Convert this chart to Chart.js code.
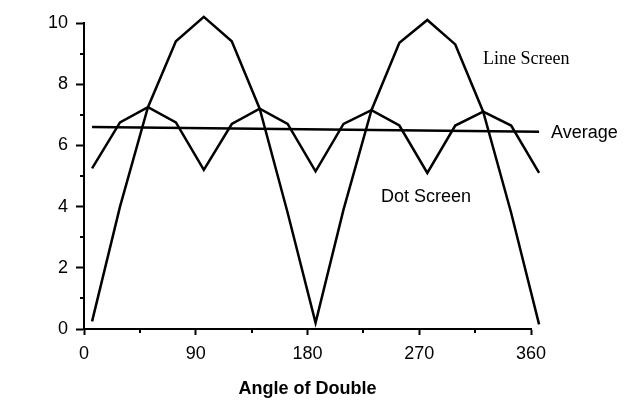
<!DOCTYPE html>
<html>
<head>
<meta charset="utf-8">
<script src="https://cdn.jsdelivr.net/npm/chart.js@4"></script>
<style>
  body { margin: 0; background: #fff; }
  canvas { display: block; }
</style>
</head>
<body>
<canvas id="screenChart" width="628" height="406"></canvas>
<script>
// Angles where the curves were sampled (degrees)
const angles = [6.5, 29, 51.5, 74, 96.5, 119, 141.5, 164, 186.5, 209, 231.5, 254, 276.5, 299, 321.5, 344, 366.5];
const lineScreen = [0.25, 4.0, 7.25, 9.4, 10.2, 9.4, 7.2, 3.8, 0.2, 3.9, 7.15, 9.35, 10.1, 9.3, 7.1, 3.8, 0.15];
const dotScreen = [5.25, 6.75, 7.25, 6.75, 5.2, 6.7, 7.2, 6.7, 5.15, 6.7, 7.15, 6.65, 5.1, 6.65, 7.1, 6.65, 5.1];
const averageX = [6.5, 366.5];
const averageY = [6.6, 6.45];

const xTicks = [0, 90, 180, 270, 360];
const xMinorTicks = [45, 135, 225, 315];
const yMinorTicks = [1, 3, 5, 7, 9];

// Text labels placed next to the curves
const notes = [
    { text: 'Line Screen', x: 483, y: 59, font: '18px "Liberation Serif", "Times New Roman", serif' },
    { text: 'Average', x: 551, y: 133, font: '18px "Liberation Sans", Arial, sans-serif' },
    { text: 'Dot Screen', x: 381, y: 197, font: '18px "Liberation Sans", Arial, sans-serif' }
];

function toPoints(xs, ys) {
    return xs.map((x, i) => ({ x: x, y: ys[i] }));
}

// Draws short minor tick marks and the free text labels
const extrasPlugin = {
    id: 'extras',
    afterDraw(chart) {
        const ctx = chart.ctx;
        const xs = chart.scales.x;
        const ys = chart.scales.y;
        const area = chart.chartArea;
        ctx.save();
        ctx.strokeStyle = '#000';
        ctx.lineWidth = 2;
        ctx.beginPath();
        yMinorTicks.forEach(v => {
            const py = Math.round(ys.getPixelForValue(v));
            ctx.moveTo(area.left - 4, py);
            ctx.lineTo(area.left, py);
        });
        xMinorTicks.forEach(v => {
            const px = Math.round(xs.getPixelForValue(v));
            ctx.moveTo(px, area.bottom);
            ctx.lineTo(px, area.bottom + 4);
        });
        ctx.stroke();

        ctx.fillStyle = '#000';
        ctx.textBaseline = 'middle';
        ctx.textAlign = 'left';
        notes.forEach(n => {
            ctx.font = n.font;
            ctx.fillText(n.text, n.x, n.y);
        });
        ctx.restore();
    }
};

const lineStyle = {
    borderColor: '#000',
    borderWidth: 2.5,
    pointRadius: 0,
    tension: 0,
    fill: false,
    clip: false
};

const ctx = document.getElementById('screenChart').getContext('2d');
const screenChart = new Chart(ctx, {
    type: 'line',
    data: {
        datasets: [
            Object.assign({ label: 'Line Screen', data: toPoints(angles, lineScreen) }, lineStyle),
            Object.assign({ label: 'Dot Screen', data: toPoints(angles, dotScreen) }, lineStyle),
            Object.assign({ label: 'Average', data: toPoints(averageX, averageY) }, lineStyle)
        ]
    },
    options: {
        responsive: false,
        animation: false,
        layout: { padding: { left: 0, right: 97, top: 23, bottom: 0 } },
        plugins: {
            legend: { display: false },
            tooltip: { enabled: false }
        },
        scales: {
            x: {
                type: 'linear',
                min: 0,
                max: 360,
                afterBuildTicks: scale => { scale.ticks = xTicks.map(v => ({ value: v })); },
                afterFit: scale => { scale.height = 77; },
                ticks: {
                    color: '#000',
                    font: { family: '"Liberation Sans", Arial, sans-serif', size: 18 },
                    padding: 8,
                    maxRotation: 0
                },
                grid: { drawOnChartArea: false, tickLength: 6, tickColor: '#000', tickWidth: 2 },
                border: { color: '#000', width: 2 },
                title: {
                    display: true,
                    text: 'Angle of Double',
                    color: '#000',
                    font: { family: '"Liberation Sans", Arial, sans-serif', size: 18, weight: 'bold' },
                    padding: { top: 4, bottom: 6 }
                }
            },
            y: {
                min: 0,
                max: 10,
                afterFit: scale => { scale.width = 84; },
                ticks: {
                    stepSize: 2,
                    color: '#000',
                    font: { family: '"Liberation Sans", Arial, sans-serif', size: 18 },
                    padding: 8
                },
                grid: { drawOnChartArea: false, tickLength: 8, tickColor: '#000', tickWidth: 2 },
                border: { color: '#000', width: 2 }
            }
        }
    },
    plugins: [extrasPlugin]
});
</script>
</body>
</html>
